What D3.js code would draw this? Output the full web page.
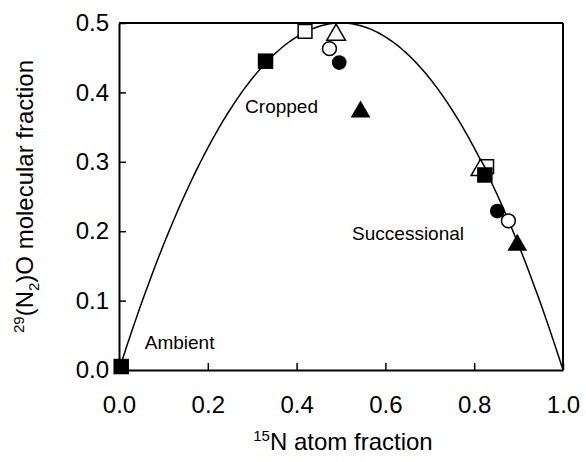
<!DOCTYPE html>
<html>
<head>
<meta charset="utf-8">
<script src="https://cdn.jsdelivr.net/npm/d3@7"></script>
<style>
  body { margin: 0; background: #fff; }
  svg text { font-family: "Liberation Sans", Arial, sans-serif; fill: #000; }
</style>
</head>
<body>
<div id="chart"></div>
<script>
// x = 15N atom fraction, y = 29(N2)O molecular fraction
var filledSquareX = [0.005, 0.33, 0.824];
var filledSquareY = [0.005, 0.445, 0.281];
var openSquareX = [0.419, 0.828];
var openSquareY = [0.488, 0.293];
var openTriangleX = [0.489, 0.814];
var openTriangleY = [0.483, 0.288];
var openCircleX = [0.474, 0.877];
var openCircleY = [0.463, 0.215];
var filledCircleX = [0.496, 0.852];
var filledCircleY = [0.443, 0.229];
var filledTriangleX = [0.544, 0.897];
var filledTriangleY = [0.372, 0.18];

var xTicks = [0, 0.2, 0.4, 0.6, 0.8, 1.0];
var yTicks = [0, 0.1, 0.2, 0.3, 0.4, 0.5];

var labels = [
  { text: "Cropped", x: 0.284, y: 0.37 },
  { text: "Successional", x: 0.525, y: 0.188 },
  { text: "Ambient", x: 0.058, y: 0.03 }
];

// theoretical binomial curve: 29N2O fraction = 2p(1-p)
function binomial(p) { return 2 * p * (1 - p); }

var width = 586, height = 462;
var margin = { left: 119, right: 23, top: 23, bottom: 92 };

var svg = d3.select("#chart").append("svg")
  .attr("width", width)
  .attr("height", height);

var x = d3.scaleLinear().domain([0, 1]).range([margin.left, width - margin.right]);
var y = d3.scaleLinear().domain([0, 0.5]).range([height - margin.bottom, margin.top]);

// curve
var curvePts = d3.range(0, 1.0001, 0.005).map(function(p) { return [p, binomial(p)]; });
svg.append("path")
  .datum(curvePts)
  .attr("fill", "none")
  .attr("stroke", "#000")
  .attr("stroke-width", 1.5)
  .attr("d", d3.line().x(function(d) { return x(d[0]); }).y(function(d) { return y(d[1]); }));

// axes (inward ticks)
var xAxis = svg.append("g")
  .attr("transform", "translate(0," + y(0) + ")")
  .call(d3.axisBottom(x).tickValues(xTicks).tickSizeInner(-7).tickSizeOuter(0).tickFormat(d3.format(".1f")));
var yAxis = svg.append("g")
  .attr("transform", "translate(" + x(0) + ",0)")
  .call(d3.axisLeft(y).tickValues(yTicks).tickSizeInner(-7).tickSizeOuter(0).tickFormat(d3.format(".1f")));

[xAxis, yAxis].forEach(function(g) {
  g.select(".domain").attr("stroke-width", 2);
  g.selectAll(".tick line").attr("stroke-width", 1.5);
  g.selectAll(".tick text").style("font-size", "24px");
});
xAxis.selectAll(".tick text").attr("y", 26).attr("dy", "0.71em");
yAxis.selectAll(".tick text").attr("x", -10);

// frame top & right
svg.append("line").attr("x1", x(0)).attr("x2", x(1)).attr("y1", y(0.5)).attr("y2", y(0.5))
  .attr("stroke", "#000").attr("stroke-width", 2);
svg.append("line").attr("x1", x(1)).attr("x2", x(1)).attr("y1", y(0.5)).attr("y2", y(0))
  .attr("stroke", "#000").attr("stroke-width", 2);

// markers
function zip(xs, ys) { return xs.map(function(v, i) { return [v, ys[i]]; }); }
function drawSeries(xs, ys, symbolType, size, filled) {
  svg.append("g").selectAll("path")
    .data(zip(xs, ys))
    .join("path")
      .attr("transform", function(d) { return "translate(" + x(d[0]) + "," + y(d[1]) + ")"; })
      .attr("d", d3.symbol().type(symbolType).size(size))
      .attr("fill", filled ? "#000" : "#fff")
      .attr("stroke", "#000")
      .attr("stroke-width", filled ? 0 : 1.5);
}
drawSeries(openSquareX, openSquareY, d3.symbolSquare, 190, false);
drawSeries(openTriangleX, openTriangleY, d3.symbolTriangle, 150, false);
drawSeries(openCircleX, openCircleY, d3.symbolCircle, 150, false);
drawSeries(filledCircleX, filledCircleY, d3.symbolCircle, 170, true);
drawSeries(filledTriangleX, filledTriangleY, d3.symbolTriangle, 170, true);
drawSeries(filledSquareX, filledSquareY, d3.symbolSquare, 240, true);

// annotations
svg.append("g").selectAll("text")
  .data(labels)
  .join("text")
    .attr("x", function(d) { return x(d.x); })
    .attr("y", function(d) { return y(d.y); })
    .style("font-size", "19px")
    .text(function(d) { return d.text; });

// axis titles
var xt = svg.append("text")
  .attr("x", (x(0) + x(1)) / 2 + 2)
  .attr("y", 450)
  .attr("text-anchor", "middle")
  .style("font-size", "24px");
xt.append("tspan").attr("dy", "-9").style("font-size", "15px").text("15");
xt.append("tspan").attr("dy", "9").text("N atom fraction");

var yt = svg.append("text")
  .attr("transform", "translate(33," + ((y(0) + y(0.5)) / 2) + ") rotate(-90)")
  .attr("text-anchor", "middle")
  .style("font-size", "24px");
yt.append("tspan").attr("dy", "-9").style("font-size", "15px").text("29");
yt.append("tspan").attr("dy", "9").text("(N");
yt.append("tspan").attr("dy", "6").style("font-size", "15px").text("2");
yt.append("tspan").attr("dy", "-6").text(")O molecular fraction");
</script>
</body>
</html>
